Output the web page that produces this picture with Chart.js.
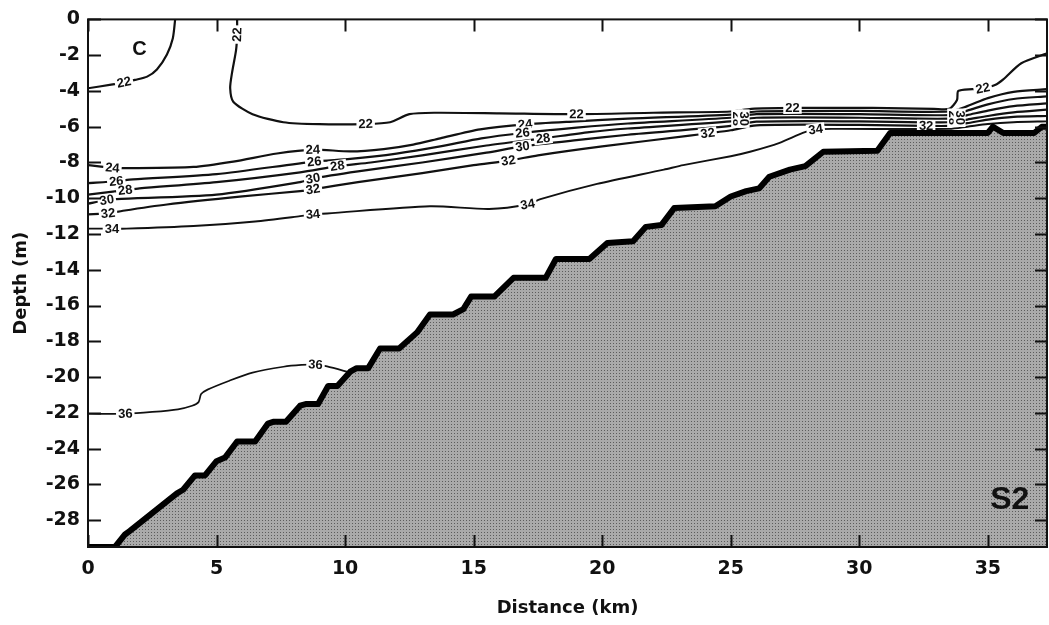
<!DOCTYPE html>
<html>
<head>
<meta charset="utf-8">
<script src="https://cdn.jsdelivr.net/npm/chart.js@4.4.1/dist/chart.umd.min.js"></script>
<style>
  html, body { margin: 0; padding: 0; background: #fff; }
  #wrap { width: 1049px; height: 625px; }
</style>
</head>
<body>
<div id="wrap"><canvas id="section"></canvas></div>
<script>
// distance (km) / depth (m) tick values
const distTicks = [0, 5, 10, 15, 20, 25, 30, 35];
const depthTicks = [0, -2, -4, -6, -8, -10, -12, -14, -16, -18, -20, -22, -24, -26, -28];

// sea floor along the transect [km, m]
const bottomProfile = [
  [0, -29.5], [1.05, -29.5], [1.44, -28.8], [1.63, -28.6], [3.46, -26.5], [3.7, -26.3],
  [4.16, -25.5], [4.55, -25.5], [5.0, -24.7], [5.33, -24.5], [5.8, -23.6], [6.5, -23.6],
  [7.0, -22.6], [7.2, -22.5], [7.7, -22.5], [8.25, -21.6], [8.5, -21.5], [8.95, -21.5],
  [9.34, -20.5], [9.7, -20.5], [10.2, -19.7], [10.45, -19.5], [10.9, -19.5], [11.36, -18.4],
  [12.1, -18.4], [12.8, -17.5], [13.3, -16.5], [14.2, -16.5], [14.6, -16.2], [14.9, -15.5],
  [15.8, -15.5], [16.55, -14.45], [17.8, -14.45], [18.2, -13.4], [19.5, -13.4], [20.2, -12.5],
  [21.2, -12.4], [21.7, -11.6], [22.3, -11.5], [22.8, -10.55], [24.4, -10.45], [25.0, -9.9],
  [25.6, -9.6], [26.1, -9.45], [26.5, -8.8], [27.3, -8.4], [27.9, -8.2], [28.6, -7.4],
  [30.7, -7.35], [31.2, -6.35], [35.0, -6.35], [35.2, -6.0], [35.6, -6.35], [36.8, -6.35],
  [37.1, -6.0], [37.5, -6.0]
];

// salinity isolines [km, m]
const iso22a = [
  [3.39, 0], [3.3, -1.05], [3.07, -1.96], [2.68, -2.8], [2.3, -3.2], [1.83, -3.38],
  [1.4, -3.52], [0.9, -3.65], [0, -3.85]
];
const iso22b = [
  [5.8, 0], [5.8, -0.85], [5.76, -1.7], [5.6, -3.0], [5.53, -3.85], [5.65, -4.6], [6.4, -5.3],
  [7.6, -5.75], [9.0, -5.86], [10.8, -5.85], [11.75, -5.75], [12.5, -5.3], [13.5, -5.22],
  [16.0, -5.25], [19.0, -5.3], [22.0, -5.22], [25.0, -5.15], [25.8, -5.0], [27.4, -4.95],
  [30.5, -4.95], [32.9, -5.0], [33.5, -5.0], [33.8, -4.5], [33.85, -4.0], [34.4, -3.9],
  [34.8, -3.85], [35.3, -3.65], [35.6, -3.35], [36.3, -2.45], [37.3, -1.9]
];
const iso24 = [
  [0, -8.15], [0.95, -8.3], [1.5, -8.32], [4.1, -8.25], [5.65, -7.95], [7.35, -7.5],
  [8.75, -7.28], [10.2, -7.38], [11.5, -7.25], [12.65, -7.0], [13.7, -6.65], [15.25, -6.15],
  [17.0, -5.87], [19.0, -5.7], [21.0, -5.55], [25.0, -5.32], [26.0, -5.15], [30.0, -5.12],
  [33.5, -5.15], [34.2, -4.85], [35.0, -4.4], [36.0, -4.05], [37.3, -3.9]
];
const iso26 = [
  [0, -9.15], [1.1, -9.05], [1.75, -8.95], [5.0, -8.65], [8.8, -7.95], [10.2, -7.8],
  [12.0, -7.5], [13.7, -7.1], [15.3, -6.65], [16.9, -6.35], [19.0, -6.05], [21.0, -5.82],
  [25.0, -5.5], [26.0, -5.3], [30.0, -5.3], [33.5, -5.35], [34.2, -5.1], [35.0, -4.75],
  [36.0, -4.45], [37.3, -4.3]
];
const iso28 = [
  [0, -9.8], [1.45, -9.55], [2.0, -9.45], [5.0, -9.1], [8.25, -8.55], [9.7, -8.2],
  [11.0, -8.0], [13.0, -7.6], [15.5, -7.05], [17.7, -6.65], [19.5, -6.3], [21.0, -6.1],
  [25.0, -5.7], [26.0, -5.5], [30.0, -5.5], [33.5, -5.55], [34.2, -5.35], [35.0, -5.1],
  [36.0, -4.85], [37.3, -4.7]
];
const iso30 = [
  [0, -10.3], [0.73, -10.1], [1.1, -10.05], [5.0, -9.8], [8.25, -9.1], [8.75, -8.9],
  [10.5, -8.5], [13.0, -8.0], [15.5, -7.45], [16.9, -7.1], [19.0, -6.75], [21.0, -6.45],
  [25.0, -5.95], [26.0, -5.72], [30.0, -5.7], [33.5, -5.75], [34.2, -5.6], [35.0, -5.4],
  [36.0, -5.2], [37.3, -5.05]
];
const iso32 = [
  [0, -10.9], [0.78, -10.85], [1.36, -10.7], [3.07, -10.35], [6.0, -9.9], [8.25, -9.6],
  [8.75, -9.5], [10.5, -9.1], [13.0, -8.6], [15.0, -8.15], [16.35, -7.9], [17.5, -7.6],
  [20.0, -7.1], [23.4, -6.5], [24.1, -6.37], [25.0, -6.2], [26.0, -5.92], [30.0, -5.9],
  [32.6, -5.95], [33.5, -5.95], [34.2, -5.8], [35.0, -5.6], [36.0, -5.45], [37.3, -5.4]
];
const iso34 = [
  [0, -11.7], [0.93, -11.7], [1.5, -11.7], [4.1, -11.55], [6.5, -11.3], [8.25, -11.0],
  [8.75, -10.9], [9.3, -10.85], [13.3, -10.45], [15.6, -10.6], [17.1, -10.35], [17.6, -10.05],
  [19.8, -9.2], [22.4, -8.4], [23.15, -8.15], [25.0, -7.65], [25.75, -7.4], [26.9, -6.9],
  [27.8, -6.35], [28.3, -6.15], [29.0, -6.12], [33.5, -6.12], [34.2, -6.0], [35.0, -5.85],
  [36.0, -5.75], [37.3, -5.7]
];
const iso36 = [
  [0, -22.05], [1.45, -22.05], [2.5, -21.95], [3.5, -21.8], [4.05, -21.6], [4.3, -21.4],
  [4.4, -20.95], [4.65, -20.7], [5.5, -20.2], [6.4, -19.75], [7.6, -19.42], [8.3, -19.32],
  [8.85, -19.3], [9.3, -19.4], [10.2, -19.75]
];

// value, points, indices of labelled vertices, line width
const isolines = [
  { value: 22, pts: iso22a, labelAt: [6], width: 2.2 },
  { value: 22, pts: iso22b, labelAt: [1, 9, 14, 18, 25], width: 2.2 },
  { value: 24, pts: iso24, labelAt: [1, 6, 12], width: 2.2 },
  { value: 26, pts: iso26, labelAt: [1, 4, 9], width: 2.2 },
  { value: 28, pts: iso28, labelAt: [1, 5, 9], width: 2.2 },
  { value: 30, pts: iso30, labelAt: [1, 5, 9], width: 2.2 },
  { value: 32, pts: iso32, labelAt: [1, 6, 10, 14, 18], width: 2.2 },
  { value: 34, pts: iso34, labelAt: [1, 6, 10, 19], width: 1.9 },
  { value: 36, pts: iso36, labelAt: [1, 12], width: 1.7 }
];

// labels squeezed upright where the isolines bunch up
const packedTags = [[25.25, -5.55, '28'], [25.5, -5.55, '30'], [33.65, -5.5, '28'], [33.9, -5.5, '30']];
const panelTags = [[2.0, -1.7, 'C', 20], [35.85, -26.9, 'S2', 32]];

const TEXT_FONT = '"DejaVu Sans", "Liberation Sans", Arial, sans-serif';
const TAG_FONT = '"Liberation Sans", Arial, sans-serif';

function stipple() {
  const c = document.createElement('canvas');
  c.width = 3; c.height = 3;
  const g = c.getContext('2d');
  g.fillStyle = '#aaaaaa';
  g.fillRect(0, 0, 3, 3);
  g.fillStyle = '#5c5c5c';
  g.fillRect(1, 1, 1, 1);
  return g.createPattern(c, 'repeat');
}

function toXY(pts) {
  return pts.map(([x, y]) => ({ x, y }));
}

function drawTag(ctx, text, px, py, ang) {
  ctx.save();
  ctx.translate(px, py);
  ctx.rotate(ang);
  const w = ctx.measureText(text).width;
  ctx.fillStyle = '#fff';
  ctx.fillRect(-w / 2 - 2, -6, w + 4, 12);
  ctx.fillStyle = '#111';
  ctx.fillText(text, 0, 0.5);
  ctx.restore();
}

// isoline labels go in just before the sea floor (dataset 0) is painted
const isolineLabels = {
  id: 'isolineLabels',
  beforeDatasetDraw(chart, args) {
    if (args.index !== 0) return;
    const { ctx, scales: { x, y } } = chart;
    ctx.save();
    ctx.font = 'bold 13px ' + TAG_FONT;
    ctx.textAlign = 'center';
    ctx.textBaseline = 'middle';
    isolines.forEach(line => {
      line.labelAt.forEach(i => {
        const p = line.pts[i];
        const a = line.pts[Math.max(i - 1, 0)];
        const b = line.pts[Math.min(i + 1, line.pts.length - 1)];
        let ang = Math.atan2(
          y.getPixelForValue(b[1]) - y.getPixelForValue(a[1]),
          x.getPixelForValue(b[0]) - x.getPixelForValue(a[0])
        );
        if (ang > Math.PI / 2) ang -= Math.PI;
        if (ang < -Math.PI / 2) ang += Math.PI;
        drawTag(ctx, String(line.value), x.getPixelForValue(p[0]), y.getPixelForValue(p[1]), ang);
      });
    });
    packedTags.forEach(([kx, my, t]) => {
      drawTag(ctx, t, x.getPixelForValue(kx), y.getPixelForValue(my), Math.PI / 2);
    });
    ctx.restore();
  }
};

// box frame with inward ticks on all four sides, plus panel letters
const frame = {
  id: 'frame',
  afterDraw(chart) {
    const { ctx, chartArea: { left, right, top, bottom }, scales: { x, y } } = chart;
    ctx.save();
    ctx.strokeStyle = '#111';
    ctx.lineWidth = 2;
    ctx.strokeRect(left, top, right - left, bottom - top);
    ctx.beginPath();
    distTicks.forEach(v => {
      const px = Math.round(x.getPixelForValue(v)) + 0.5;
      ctx.moveTo(px, bottom); ctx.lineTo(px, bottom - 12);
      ctx.moveTo(px, top); ctx.lineTo(px, top + 12);
    });
    depthTicks.forEach(v => {
      const py = Math.round(y.getPixelForValue(v)) + 0.5;
      ctx.moveTo(left, py); ctx.lineTo(left + 13, py);
      ctx.moveTo(right, py); ctx.lineTo(right - 12, py);
    });
    ctx.stroke();
    ctx.fillStyle = '#111';
    ctx.textAlign = 'center';
    ctx.textBaseline = 'middle';
    panelTags.forEach(([kx, my, t, size]) => {
      ctx.font = 'bold ' + size + 'px ' + TAG_FONT;
      ctx.fillText(t, x.getPixelForValue(kx), y.getPixelForValue(my));
    });
    ctx.restore();
  }
};

const datasets = [{
  data: toXY(bottomProfile),
  borderColor: '#000',
  borderWidth: 6,
  borderJoinStyle: 'round',
  backgroundColor: stipple(),
  fill: 'start',
  tension: 0,
  pointRadius: 0,
  showLine: true
}].concat(isolines.map(line => ({
  data: toXY(line.pts),
  borderColor: '#111',
  borderWidth: line.width,
  fill: false,
  tension: 0.25,
  pointRadius: 0,
  showLine: true
})));

const tickFont = { family: TEXT_FONT, size: 19, weight: 'bold' };

new Chart(document.getElementById('section'), {
  type: 'scatter',
  data: { datasets },
  options: {
    responsive: true,
    maintainAspectRatio: false,
    animation: false,
    layout: { padding: { top: 18, right: 2, left: 0, bottom: 0 } },
    plugins: { legend: { display: false }, tooltip: { enabled: false } },
    scales: {
      x: {
        type: 'linear',
        min: 0,
        max: 37.3,
        afterBuildTicks: axis => { axis.ticks = distTicks.map(v => ({ value: v })); },
        afterFit: axis => { axis.height = 78; },
        grid: { display: false, drawTicks: false },
        border: { display: false },
        ticks: { padding: 11, color: '#111', font: tickFont, maxRotation: 0, autoSkip: false },
        title: {
          display: true,
          text: 'Distance (km)',
          color: '#111',
          font: { family: TEXT_FONT, size: 18, weight: 'bold' },
          padding: { top: 0, bottom: 6 }
        }
      },
      y: {
        type: 'linear',
        min: -29.5,
        max: 0,
        afterBuildTicks: axis => { axis.ticks = depthTicks.map(v => ({ value: v })); },
        afterFit: axis => { axis.width = 88; },
        grid: { display: false, drawTicks: false },
        border: { display: false },
        ticks: { padding: 8, color: '#111', font: tickFont, autoSkip: false },
        title: {
          display: true,
          text: 'Depth (m)',
          color: '#111',
          font: { family: TEXT_FONT, size: 18, weight: 'bold' },
          padding: { top: 11, bottom: 0 }
        }
      }
    }
  },
  plugins: [isolineLabels, frame]
});
</script>
</body>
</html>
